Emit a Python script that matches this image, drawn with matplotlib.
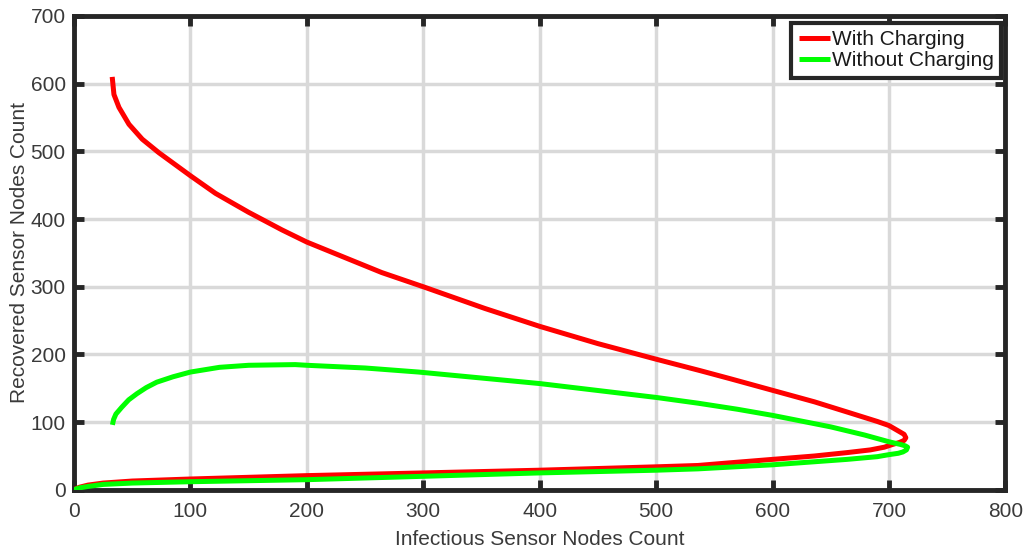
import matplotlib
matplotlib.use("Agg")
import matplotlib.pyplot as plt

plt.rcParams['font.family'] = ['Liberation Sans', 'DejaVu Sans']

# Phase trajectories: infectious (x) vs recovered (y) sensor nodes
with_charging_infectious = [0, 2, 5, 12, 25, 50, 100, 200, 300, 400, 500, 536, 564, 600, 636,
                            664, 684, 696, 703, 709, 713, 714.5, 713, 708, 700, 690, 664, 636,
                            600, 564, 538, 500, 450, 400, 352.8, 300, 264.3, 235.7, 200,
                            178.6, 150, 121.5, 100, 72.9, 58.6, 47.2, 38.6, 34.3, 32.8]
with_charging_recovered = [0, 2, 4, 7, 10, 13, 16, 21, 25, 29, 34, 36, 40, 45, 50,
                           55, 59, 63, 67, 70, 73, 77, 82, 87, 95, 101, 115, 130,
                           147, 164, 176, 193, 216, 241.5, 268, 300, 321, 341, 366,
                           384, 410, 438, 464, 498, 518, 540, 565, 584, 610]

without_charging_infectious = [0, 2, 5, 12, 25, 50, 100, 200, 300, 400, 500, 536, 600, 664,
                               690, 700, 708, 712, 715, 716, 714, 710, 700, 679, 650, 600,
                               570, 536, 500, 400, 296, 250, 200, 190, 150, 125, 100, 85,
                               71, 62, 54, 47, 41, 36, 34, 33]
without_charging_recovered = [0, 1.5, 3, 5, 8, 10, 12, 15, 20, 25, 29, 31, 37, 45,
                              49, 52, 54, 56, 59, 63, 65, 67, 71, 81, 93, 110,
                              119, 128, 136.5, 157, 174, 180, 184, 185, 184, 181, 174, 167,
                              159, 151, 142, 133, 122, 112, 104, 96]

x_ticks = [0, 100, 200, 300, 400, 500, 600, 700, 800]
y_ticks = [0, 100, 200, 300, 400, 500, 600, 700]

text_color = '#3a3a3a'
axis_color = '#262626'

fig = plt.figure(figsize=(10.28, 5.51), dpi=100)
ax = fig.add_axes([0.072, 0.111, 0.906, 0.860])

ax.plot(with_charging_infectious, with_charging_recovered, color='#ff0000', lw=3.6,
        solid_capstyle='butt', solid_joinstyle='round', label='With Charging', zorder=3)
ax.plot(without_charging_infectious, without_charging_recovered, color='#00ff00', lw=3.6,
        solid_capstyle='butt', solid_joinstyle='round', label='Without Charging', zorder=3)

ax.set_xlim(0, 800)
ax.set_ylim(0, 700)
ax.set_xticks(x_ticks)
ax.set_yticks(y_ticks)
ax.grid(True, color='#d9d9d9', lw=2.5)
ax.set_axisbelow(True)

for s in ax.spines.values():
    s.set_linewidth(3.5)
    s.set_color(axis_color)
ax.tick_params(direction='in', length=7, width=3.5, color=axis_color,
               top=True, right=True, labelsize=15, labelcolor=text_color)
ax.tick_params(axis='x', pad=9)
ax.tick_params(axis='y', pad=6)

ax.set_xlabel('Infectious Sensor Nodes Count', fontsize=15, color=text_color, labelpad=6)
ax.set_ylabel('Recovered Sensor Nodes Count', fontsize=15, color=text_color, labelpad=1)

leg = ax.legend(loc='upper right', bbox_to_anchor=(0.9955, 0.986), fontsize=15,
                handlelength=1.5, handletextpad=0.1, borderpad=0.35,
                labelspacing=0.12, borderaxespad=0.0, fancybox=False, framealpha=1)
leg.get_frame().set_edgecolor(axis_color)
leg.get_frame().set_linewidth(3.0)
for text in leg.get_texts():
    text.set_color('#1a1a1a')
for line in leg.get_lines():
    line.set_linewidth(3.6)

fig.savefig('out.png', dpi=100)
